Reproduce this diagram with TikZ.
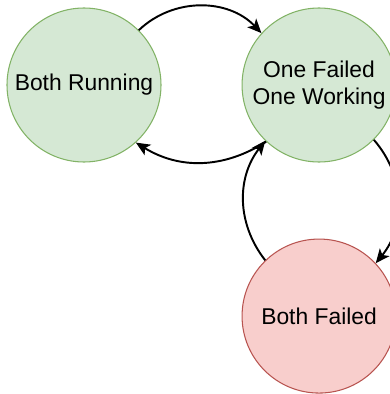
\documentclass[tikz,border=0pt]{standalone}
\usepackage{fontspec}
\setmainfont{Liberation Sans}
\usepackage{xcolor}
\usepackage{tikz}
\usetikzlibrary{positioning,arrows.meta}

\definecolor{okfill}{HTML}{D5E8D4}
\definecolor{okdraw}{HTML}{82B366}
\definecolor{badfill}{HTML}{F8CECC}
\definecolor{baddraw}{HTML}{B85450}

\begin{document}
\begin{tikzpicture}[
					statenode/.style={
						circle, line width=0.6pt,
						minimum size=3.08cm, inner sep=0pt,
						align=center, font=\fontsize{13}{15}\selectfont
					},
					okstate/.style={
						statenode, fill=okfill, draw=okdraw
					},
					badstate/.style={
						statenode, fill=badfill, draw=baddraw
					},
					trans/.style={
						draw=black, line width=1.1pt,
						-{Stealth[length=8pt, width=7pt, inset=2pt]}
					}
					]
					
					\useasboundingbox (0,0) rectangle (7.8,-7.88);
					
					% --- TRẠNG THÁI ---
					\node[okstate] (run) at (1.68,-1.70) {Both Running};
					\node[okstate, right=1.6cm of run] (one) {One Failed\\One Working};
					\node[badstate, below=1.52cm of one] (fail) {Both Failed};
					
					% --- CHUYỂN TRẠNG THÁI ---
					\draw[trans] (run.45) to[bend left=45] (one.138);
					\draw[trans] (one.227) to[bend left=32] (run.312);
					\draw[trans] (fail.134) to[bend left=38] (one.226);
					\draw[trans] (one.315) to[bend left=40] (fail.43);
					
				\end{tikzpicture}
\end{document}
